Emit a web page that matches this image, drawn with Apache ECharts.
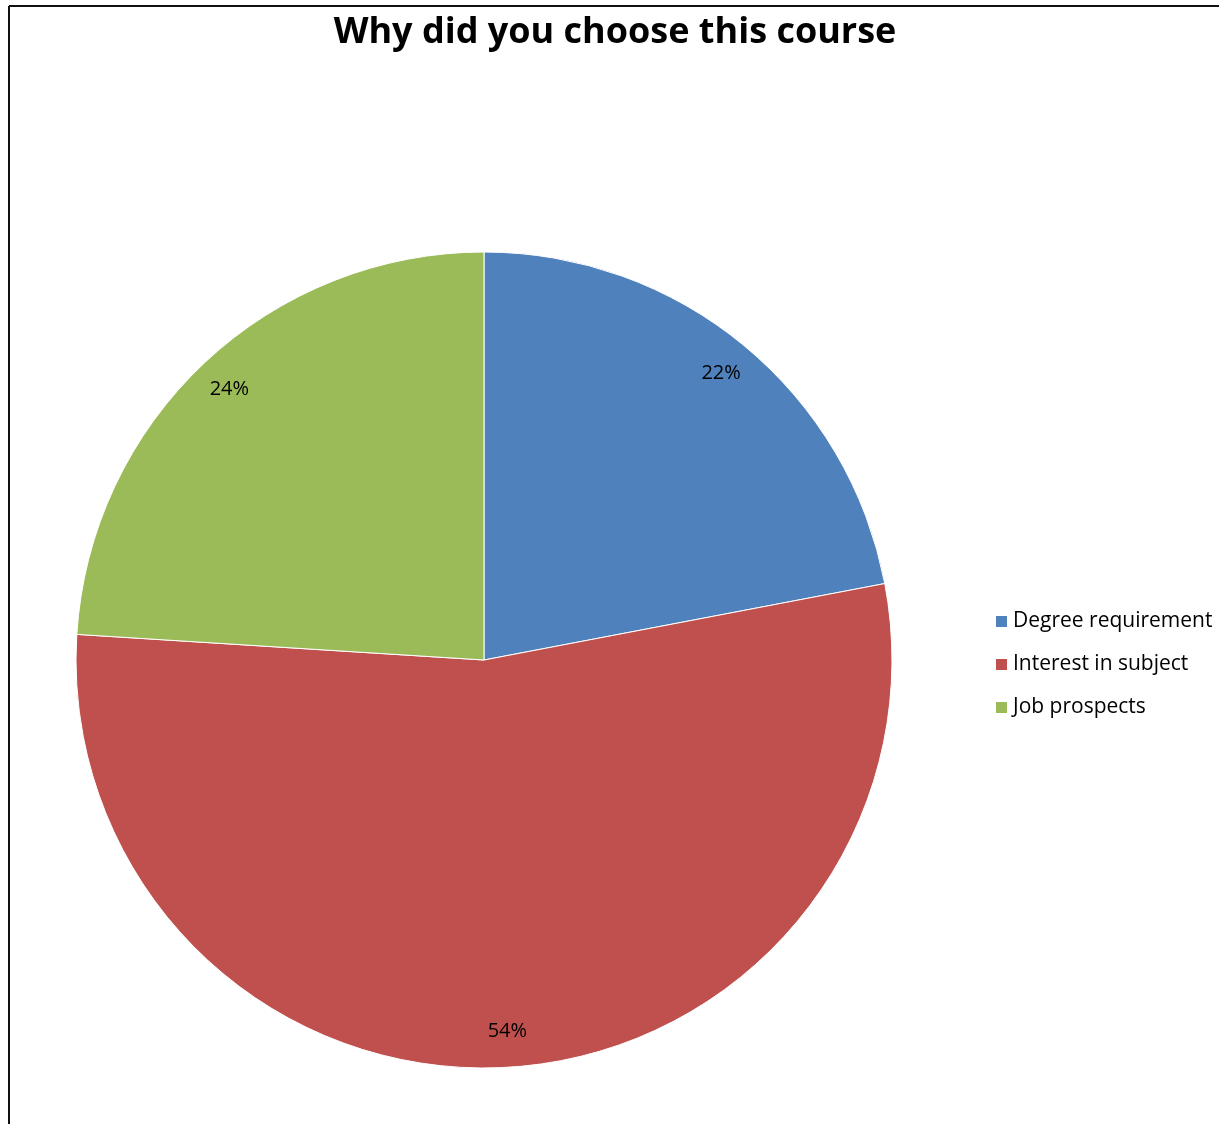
<!DOCTYPE html>
<html>
<head>
<meta charset="utf-8">
<script src="https://cdn.jsdelivr.net/npm/echarts@6/dist/echarts.min.js"></script>
<style>
  html, body { margin: 0; padding: 0; background: #fff; }
  #main { width: 1219px; height: 1124px; }
</style>
</head>
<body>
<div id="main"></div>
<script>
"use strict";
var categories = ['Degree requirement', 'Interest in subject', 'Job prospects'];
var values = [22, 54, 24];
var colors = ['#4F81BD', '#C0504D', '#9BBB59'];

var myChart = echarts.init(document.getElementById('main'));

var pieData = categories.map(function(name, i) {
    return { name: name, value: values[i], itemStyle: { color: colors[i] } };
});

var option = {
    animation: false,
    title: {
        text: 'Why did you choose this course',
        left: 610,
        textAlign: 'center',
        top: 10,
        textStyle: {
            fontFamily: 'Open Sans',
            fontWeight: 'bold',
            fontSize: 36,
            color: '#000'
        }
    },
    legend: {
        orient: 'vertical',
        left: 989,
        top: 606,
        itemWidth: 13,
        itemHeight: 13,
        itemGap: 22,
        icon: 'rect',
        textStyle: { fontFamily: 'Open Sans', fontSize: 21, color: '#000' },
        data: categories
    },
    graphic: [
        { type: 'line', shape: { x1: 9, y1: 6, x2: 1219, y2: 6 }, style: { stroke: '#111', lineWidth: 2 } },
        { type: 'line', shape: { x1: 9, y1: 6, x2: 9, y2: 1124 }, style: { stroke: '#111', lineWidth: 2 } }
    ],
    series: [
        {
            type: 'pie',
            center: [484, 660],
            radius: 408,
            startAngle: 90,
            clockwise: true,
            silent: true,
            label: { show: false },
            labelLine: { show: false },
            itemStyle: { borderColor: '#fff', borderWidth: 1 },
            data: pieData
        },
        {
            // transparent ring used only to place the percentage labels near the rim
            type: 'pie',
            center: [484, 660],
            radius: [330, 408],
            startAngle: 90,
            clockwise: true,
            silent: true,
            legendHoverLink: false,
            itemStyle: { color: 'rgba(0,0,0,0)' },
            label: {
                show: true,
                position: 'inside',
                formatter: '{c}%',
                fontFamily: 'Open Sans',
                fontSize: 20,
                color: '#000'
            },
            labelLine: { show: false },
            data: categories.map(function(name, i) {
                return { name: name + ' ', value: values[i], itemStyle: { color: 'rgba(0,0,0,0)' } };
            })
        }
    ]
};

myChart.setOption(option);
</script>
</body>
</html>
